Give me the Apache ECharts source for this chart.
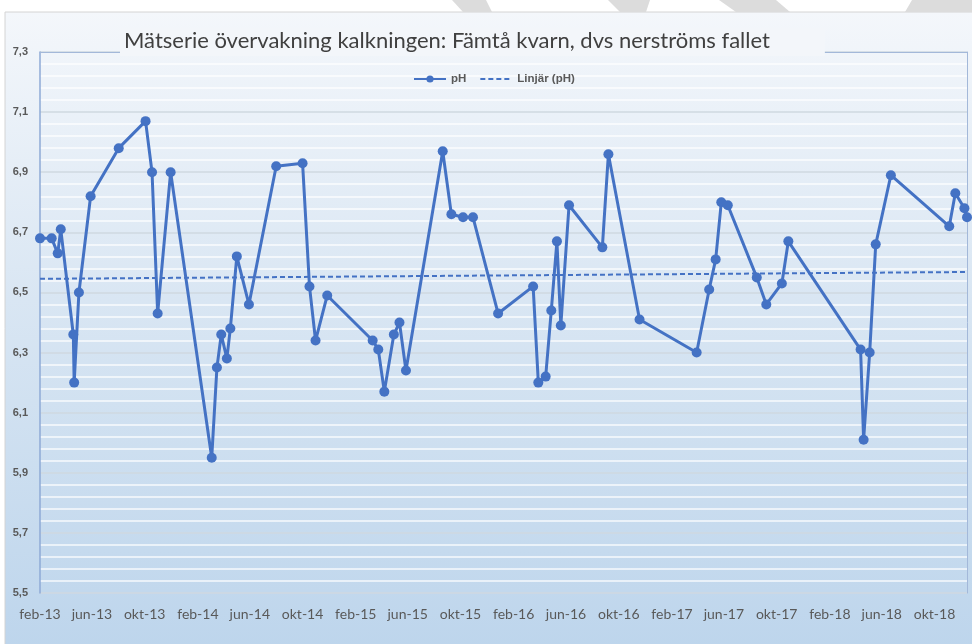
<!DOCTYPE html>
<html>
<head>
<meta charset="utf-8">
<script src="https://cdn.jsdelivr.net/npm/echarts@6/dist/echarts.min.js"></script>
<style>
  html, body { margin: 0; padding: 0; background: #fff; }
  #main { width: 972px; height: 644px; }
</style>
</head>
<body>
<div id="main"></div>
<script>
var dates = ['2013-02-01','2013-02-28','2013-03-14','2013-03-21','2013-04-19','2013-04-21','2013-05-02','2013-05-29','2013-08-02','2013-10-03','2013-10-18','2013-10-31','2013-11-30',
  '2014-03-05','2014-03-17','2014-03-27','2014-04-09','2014-04-17','2014-05-02','2014-05-30','2014-08-01','2014-10-01','2014-10-17','2014-10-31','2014-11-27',
  '2015-03-12','2015-03-25','2015-04-08','2015-04-30','2015-05-13','2015-05-28','2015-08-21','2015-09-10','2015-10-07','2015-10-30','2015-12-27',
  '2016-03-17','2016-03-29','2016-04-15','2016-04-28','2016-05-11','2016-05-20','2016-06-08','2016-08-24','2016-09-07','2016-11-18',
  '2017-03-30','2017-04-28','2017-05-13','2017-05-26','2017-06-10','2017-08-16','2017-09-07','2017-10-13','2017-10-28',
  '2018-04-13','2018-04-20','2018-05-04','2018-05-18','2018-06-22','2018-11-04','2018-11-18','2018-12-09','2018-12-15'];

var ph = [6.68,6.68,6.63,6.71,6.36,6.2,6.5,6.82,6.98,7.07,6.9,6.43,6.9,
  5.95,6.25,6.36,6.28,6.38,6.62,6.46,6.92,6.93,6.52,6.34,6.49,
  6.34,6.31,6.17,6.36,6.4,6.24,6.97,6.76,6.75,6.75,6.43,
  6.52,6.2,6.22,6.44,6.67,6.39,6.79,6.65,6.96,6.41,
  6.3,6.51,6.61,6.8,6.79,6.55,6.46,6.53,6.67,
  6.31,6.01,6.3,6.66,6.89,6.72,6.83,6.78,6.75];

// x-axis labels every 4 months starting feb-13
var tickMonths = ['2013-02','2013-06','2013-10','2014-02','2014-06','2014-10','2015-02','2015-06','2015-10',
  '2016-02','2016-06','2016-10','2017-02','2017-06','2017-10','2018-02','2018-06','2018-10'];
var monthNames = ['jan','feb','mar','apr','maj','jun','jul','aug','sep','okt','nov','dec'];

function toTime(s) {
  var p = s.split('-');
  return new Date(+p[0], +p[1] - 1, p[2] ? +p[2] : 1).getTime();
}

var times = dates.map(toTime);
var phData = times.map(function (t, i) { return [t, ph[i]]; });
var tickValues = tickMonths.map(toTime);

// Linjär trend (least squares)
function linearTrend(xs, ys) {
  var n = xs.length, sx = 0, sy = 0, sxx = 0, sxy = 0;
  var x0 = xs[0];
  for (var i = 0; i < n; i++) {
    var x = (xs[i] - x0) / 86400000;
    sx += x; sy += ys[i]; sxx += x * x; sxy += x * ys[i];
  }
  var k = (n * sxy - sx * sy) / (n * sxx - sx * sx);
  var m = (sy - k * sx) / n;
  return function (t) { return k * (t - x0) / 86400000 + m; };
}
var trend = linearTrend(times, ph);
var tMin = times[0], tMax = times[times.length - 1];
var trendData = [[tMin, trend(tMin)], [tMax, trend(tMax)]];

var chartDom = document.getElementById('main');
var myChart = echarts.init(chartDom, null, { renderer: 'canvas' });

var blue = '#4472c4';
var gray = '#595959';

var option = {
  animation: false,
  graphic: [
    {
      type: 'rect', z: -10, silent: true,
      shape: { x: 5, y: 12, width: 980, height: 640 },
      style: {
        stroke: '#d4d4d4', lineWidth: 1,
        fill: new echarts.graphic.LinearGradient(0, 0, 0, 1, [
          { offset: 0, color: '#f4f7fb' },
          { offset: 0.45, color: '#d9e6f3' },
          { offset: 1, color: '#bdd5ec' }
        ])
      }
    },
    { type: 'polygon', z: -10, silent: true, shape: { points: [[452,0],[486,0],[492,12],[463,12]] }, style: { fill: '#dcdcdc' } },
    { type: 'polygon', z: -10, silent: true, shape: { points: [[608,0],[650,0],[646,12],[620,12]] }, style: { fill: '#dcdcdc' } },
    { type: 'polygon', z: -10, silent: true, shape: { points: [[719,0],[776,0],[790,12],[736,12]] }, style: { fill: '#dcdcdc' } },
    { type: 'polygon', z: -10, silent: true, shape: { points: [[912,0],[972,0],[972,12],[905,12]] }, style: { fill: '#dcdcdc' } }
  ],
  title: {
    text: 'Mätserie övervakning kalkningen: Fämtå kvarn, dvs nerströms fallet',
    left: 120,
    top: 28,
    padding: [2, 55, 4, 4],
    backgroundColor: '#f3f6fa',
    textStyle: {
      fontFamily: 'Lato',
      fontSize: 22,
      fontWeight: 'normal',
      color: '#404040'
    }
  },
  legend: {
    left: 408,
    top: 68,
    itemWidth: 32,
    itemHeight: 9,
    itemGap: 13,
    textStyle: {
      fontFamily: 'Liberation Sans',
      fontSize: 11.5,
      fontWeight: 'bold',
      color: gray
    },
    data: [
      { name: 'pH' },
      { name: 'Linjär (pH)', itemStyle: { opacity: 0 } }
    ]
  },
  grid: {
    left: 40,
    right: 5,
    top: 52,
    bottom: 51
  },
  xAxis: [{
    type: 'value',
    min: tMin,
    max: tMax,
    axisLine: { show: false },
    axisTick: { show: false },
    splitLine: { show: false },
    axisLabel: {
      customValues: tickValues,
      margin: 14,
      fontFamily: 'Lato',
      fontSize: 14,
      color: gray,
      formatter: function (v) {
        var d = new Date(v);
        return monthNames[d.getMonth()] + '-' + String(d.getFullYear()).slice(2);
      }
    }
  }, {
    type: 'value',
    position: 'top',
    min: tMin,
    max: tMax,
    axisLine: { show: true, lineStyle: { color: '#a3b8d9', width: 1 } },
    axisTick: { show: false },
    axisLabel: { show: false },
    splitLine: { show: false }
  }],
  yAxis: [{
    type: 'value',
    min: 5.5,
    max: 7.3,
    interval: 0.2,
    axisLine: { show: true, lineStyle: { color: '#8eaad6', width: 1.5 } },
    axisTick: { show: false },
    axisLabel: {
      margin: 12,
      fontFamily: 'Liberation Sans',
      fontSize: 11,
      fontWeight: 'bold',
      color: gray,
      formatter: function (v) { return v.toFixed(1).replace('.', ','); }
    },
    splitLine: { show: true, lineStyle: { color: '#cfd8e0', width: 1.5 } },
    minorTick: { show: true, splitNumber: 5, length: 0 },
    minorSplitLine: { show: true, lineStyle: { color: '#ffffff', width: 1.5, opacity: 0.85 } }
  }, {
    type: 'value',
    position: 'right',
    min: 5.5,
    max: 7.3,
    axisLine: { show: true, lineStyle: { color: '#a3b8d9', width: 1 } },
    axisTick: { show: false },
    axisLabel: { show: false },
    splitLine: { show: false }
  }],
  series: [
    {
      name: 'pH',
      type: 'line',
      data: phData,
      symbol: 'circle',
      symbolSize: 10,
      z: 3,
      lineStyle: { color: blue, width: 3 },
      itemStyle: { color: blue }
    },
    {
      name: 'Linjär (pH)',
      type: 'line',
      data: trendData,
      symbol: 'none',
      z: 2,
      lineStyle: { color: blue, width: 2, type: [5, 3] },
      itemStyle: { color: blue }
    }
  ]
};

option && myChart.setOption(option);
</script>
</body>
</html>
